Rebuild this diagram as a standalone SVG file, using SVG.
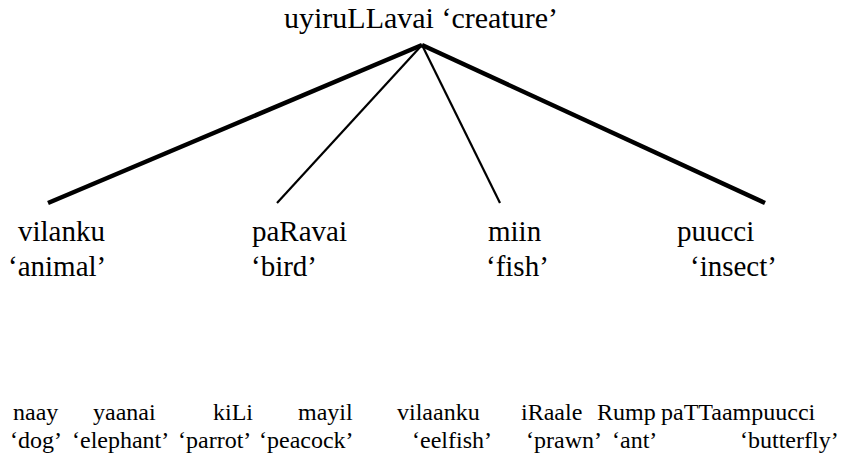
<svg xmlns="http://www.w3.org/2000/svg" width="844" height="457" viewBox="0 0 844 457">
<style>
text{font-family:"Liberation Serif","Times New Roman",serif;fill:#000}
.top{font-size:30px}
.mid{font-size:29px}
.bot{font-size:24px}
.thick{stroke:#000;stroke-width:4.5;fill:none}
.thin{stroke:#000;stroke-width:2.2;fill:none}
</style>
<rect width="844" height="457" fill="#fff"/>
<g id="connectors">
<line class="thick" x1="422" y1="45" x2="48" y2="203"/>
<line class="thin" x1="422" y1="45" x2="277" y2="203"/>
<line class="thin" x1="422" y1="45" x2="500" y2="203"/>
<line class="thick" x1="422" y1="45" x2="765" y2="203"/>
</g>
<g id="root"><text class="top" x="284" y="28">uyiruLLavai ‘creature’</text></g>
<g id="vilanku"><text class="mid" x="18" y="241">vilanku</text><text class="mid" x="8" y="276">‘animal’</text></g>
<g id="paRavai"><text class="mid" x="252" y="241">paRavai</text><text class="mid" x="251" y="276">‘bird’</text></g>
<g id="miin"><text class="mid" x="488" y="241">miin</text><text class="mid" x="486" y="276">‘fish’</text></g>
<g id="puucci"><text class="mid" x="677" y="241">puucci</text><text class="mid" x="690" y="276">‘insect’</text></g>
<g id="naay"><text class="bot" x="13" y="420">naay</text><text class="bot" x="10" y="448">‘dog’</text></g>
<g id="yaanai"><text class="bot" x="93" y="420">yaanai</text><text class="bot" x="72" y="448">‘elephant’</text></g>
<g id="kiLi"><text class="bot" x="213" y="420">kiLi</text><text class="bot" x="178" y="448">‘parrot’</text></g>
<g id="mayil"><text class="bot" x="298" y="420">mayil</text><text class="bot" x="259" y="448">‘peacock’</text></g>
<g id="vilaanku"><text class="bot" x="397" y="420">vilaanku</text><text class="bot" x="412" y="448">‘eelfish’</text></g>
<g id="iRaale"><text class="bot" x="521" y="420">iRaale</text><text class="bot" x="526" y="448">‘prawn’</text></g>
<g id="Rump"><text class="bot" x="597" y="420">Rump</text><text class="bot" x="612" y="448">‘ant’</text></g>
<g id="paTTaampuucci"><text class="bot" x="661" y="420">paTTaampuucci</text><text class="bot" x="740" y="448">‘butterfly’</text></g>
</svg>
